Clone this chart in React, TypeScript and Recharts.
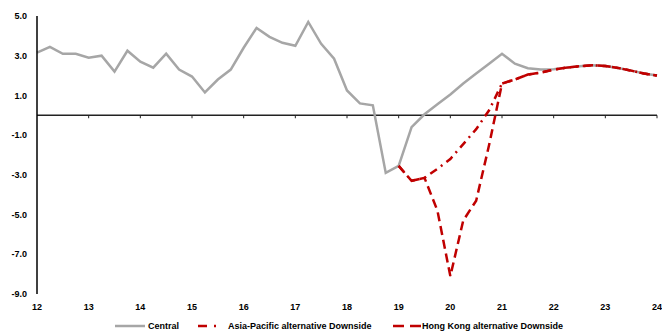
import { Legend, Line, LineChart, ReferenceLine, XAxis, YAxis } from 'recharts'

const years = ['12', '13', '14', '15', '16', '17', '18', '19', '20', '21', '22', '23', '24']
const quarters = years.flatMap((y, i) =>
  i === years.length - 1 ? [y] : [y, `${y}Q2`, `${y}Q3`, `${y}Q4`],
)
const yTicks = [-9, -7, -5, -3, -1, 1, 3, 5]

const central = [
  3.15, 3.45, 3.1, 3.1, 2.9, 3.0, 2.2, 3.25, 2.7, 2.4, 3.1, 2.3, 1.95, 1.15, 1.8, 2.3,
  3.4, 4.4, 3.95, 3.65, 3.5, 4.7, 3.6, 2.85, 1.25, 0.6, 0.5, -2.9, -2.55, -0.6, 0.05, 0.55,
  1.05, 1.6, 2.1, 2.6, 3.1, 2.6, 2.37, 2.3, 2.32, 2.4, 2.47, 2.52, 2.48, 2.38, 2.25, 2.1,
  2.0,
]
const apDownside = [
  null, null, null, null, null, null, null, null, null, null, null, null, null, null, null, null,
  null, null, null, null, null, null, null, null, null, null, null, null, -2.55, -3.3, -3.15, -2.7,
  -2.2, -1.45, -0.7, 0.25, 1.6, 1.8, 2.05, 2.15, 2.3, 2.4, 2.47, 2.52, 2.48, 2.38, 2.25, 2.1,
  2.0,
]
const hkDownside = [
  null, null, null, null, null, null, null, null, null, null, null, null, null, null, null, null,
  null, null, null, null, null, null, null, null, null, null, null, null, -2.55, -3.3, -3.15, -4.8,
  -8.1, -5.3, -4.3, -1.5, 1.6, 1.8, 2.05, 2.15, 2.3, 2.4, 2.47, 2.52, 2.48, 2.38, 2.25, 2.1,
  2.0,
]

const data = quarters.map((q, i) => ({
  q,
  central: central[i],
  ap: apDownside[i],
  hk: hkDownside[i],
}))

const font = "'Liberation Sans', Arial, sans-serif"
const tickStyle = { fontSize: 9, fontWeight: 700, fill: '#000', fontFamily: font }

function LegendContent() {
  return (
    <div
      style={{
        height: 14,
        display: 'flex',
        alignItems: 'center',
        fontFamily: font,
        fontSize: 9,
        fontWeight: 700,
        color: '#000',
        paddingLeft: 115,
        whiteSpace: 'nowrap',
      }}
    >
      <svg width={30} height={6} style={{ marginRight: 3 }}>
        <line x1={0} y1={3} x2={30} y2={3} stroke="#a6a6a6" strokeWidth={2.5} />
      </svg>
      <span style={{ width: 50 }}>Central</span>
      <svg width={24} height={6} style={{ marginRight: 6 }}>
        <line x1={0} y1={3} x2={24} y2={3} stroke="#c00000" strokeWidth={2.5} strokeDasharray="9 7 2 20" />
      </svg>
      <span style={{ width: 165 }}>Asia-Pacific alternative Downside</span>
      <svg width={28} height={6} style={{ marginRight: 1 }}>
        <line x1={0} y1={3} x2={28} y2={3} stroke="#c00000" strokeWidth={2.5} strokeDasharray="11 6" />
      </svg>
      <span>Hong Kong alternative Downside</span>
    </div>
  )
}

export default function App() {
  return (
    <div style={{ position: 'absolute', left: 0, top: 0, width: 662, height: 333, background: '#fff' }}>
      <LineChart width={662} height={333} data={data} margin={{ top: 16, right: 5, bottom: 0, left: 0 }}>
        <XAxis
          dataKey="q"
          ticks={years}
          interval={0}
          axisLine={false}
          tickLine={false}
          tickSize={0}
          tickMargin={10}
          height={25}
          tick={tickStyle}
        />
        <YAxis
          domain={[-9, 5]}
          ticks={yTicks}
          width={37}
          axisLine={{ stroke: '#000', strokeWidth: 1.5 }}
          tickLine={false}
          tickSize={0}
          tickMargin={10}
          tick={tickStyle}
          tickFormatter={(v: number) => v.toFixed(1)}
        />
        <ReferenceLine y={0} stroke="#222" strokeWidth={1.5} />
        {years.slice(1).map((y) => (
          <ReferenceLine
            key={y}
            segment={[
              { x: y, y: 0 },
              { x: y, y: -0.15 },
            ]}
            stroke="#222"
            strokeWidth={1}
          />
        ))}
        <Legend verticalAlign="bottom" content={<LegendContent />} />
        <Line
          dataKey="central"
          stroke="#a6a6a6"
          strokeWidth={2.5}
          dot={false}
          isAnimationActive={false}
        />
        <Line
          dataKey="ap"
          stroke="#c00000"
          strokeWidth={2.5}
          strokeDasharray="8 5 2 5"
          dot={false}
          isAnimationActive={false}
        />
        <Line
          dataKey="hk"
          stroke="#c00000"
          strokeWidth={2.5}
          strokeDasharray="9 5"
          dot={false}
          isAnimationActive={false}
        />
      </LineChart>
    </div>
  )
}
